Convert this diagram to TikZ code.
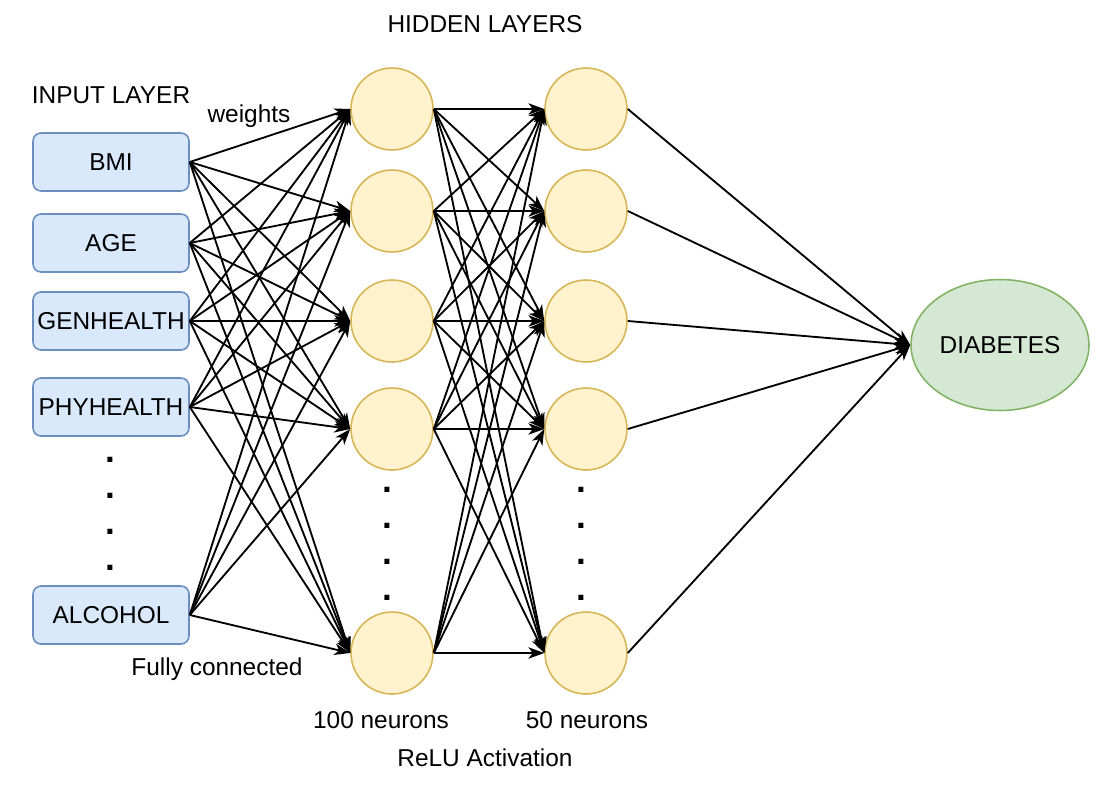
\documentclass[tikz,border=0pt]{standalone}
\usepackage{fontspec}
\setmainfont{Liberation Sans}
\usepackage{tikz}
\usetikzlibrary{arrows.meta,shapes.geometric}
\definecolor{inblue}{HTML}{DAE8FC}
\definecolor{inblueline}{HTML}{6C8EBF}
\definecolor{hidyellow}{HTML}{FFF2CC}
\definecolor{hidyellowline}{HTML}{D6B656}
\definecolor{outgreen}{HTML}{D5E8D4}
\definecolor{outgreenline}{HTML}{82B366}
\tikzset{
  txt/.style={font=\fontsize{13.9}{16}\selectfont},
  inbox/.style={txt, draw=inblueline, fill=inblue, line width=0.9pt, rounded corners=0.16cm,
    minimum width=3.12cm, minimum height=1.16cm, inner sep=0pt},
  neuron/.style={circle, draw=hidyellowline, fill=hidyellow, line width=0.9pt,
    minimum size=1.64cm, inner sep=0pt},
  outnode/.style={txt, ellipse, draw=outgreenline, fill=outgreen, line width=0.9pt,
    minimum width=3.56cm, minimum height=2.62cm, inner sep=0pt},
  wire/.style={line width=1.05pt, -{Stealth[length=9pt,width=6.5pt,inset=2.5pt]}},
  vdot/.style={font=\fontsize{20}{20}\selectfont\bfseries, anchor=base, inner sep=0pt}
}
\begin{document}
\begin{tikzpicture}[x=0.02cm,y=-0.02cm]
	%%%%% START %%%%%
	\useasboundingbox (0,0) rectangle (1108,784);
	
	% input layer
	\node[inbox] (in1) at (111,162) {BMI};
	\node[inbox] (in2) at (111,243) {AGE};
	\node[inbox] (in3) at (111,321) {GENHEALTH};
	\node[inbox] (in4) at (111,407) {PHYHEALTH};
	\node[inbox] (in5) at (111,615) {ALCOHOL};
	\foreach \y in {459,495,531,567} \node[vdot] at (110,\y+3) {.};
	
	% hidden layers
	\node[neuron] (ha1) at (392,109) {};
	\node[neuron] (ha2) at (392,211) {};
	\node[neuron] (ha3) at (392,321) {};
	\node[neuron] (ha4) at (392,429) {};
	\node[neuron] (ha5) at (392,653) {};
	\node[neuron] (hb1) at (586,109) {};
	\node[neuron] (hb2) at (586,211) {};
	\node[neuron] (hb3) at (586,321) {};
	\node[neuron] (hb4) at (586,429) {};
	\node[neuron] (hb5) at (586,653) {};
	\foreach \y in {489,525,561,597} {
		\node[vdot] at (387,\y+3) {.};
		\node[vdot] at (581,\y+3) {.};
	}
	
	% output
	\node[outnode] (out) at (1000,345) {DIABETES};
	
	% weights
	\foreach \i in {1,...,5}
		\foreach \j in {1,...,5} {
			\draw[wire] (in\i.east) -- (ha\j.west);
			\draw[wire] (ha\i.east) -- (hb\j.west);
		}
	\foreach \i in {1,...,5} \draw[wire] (hb\i.east) -- (out.west);
	
	% labels
	\node[txt] (lhidden) at (485,24) {HIDDEN LAYERS};
	\node[txt] (linput) at (111,95) {INPUT LAYER};
	\node[txt] (lweights) at (249,116) {weights};
	\node[txt] (lfully) at (217,669) {Fully connected};
	\node[txt] (lhun) at (381,720) {100 neurons};
	\node[txt] (lfifty) at (587,720) {50 neurons};
	\node[txt] (lrelu) at (485,758) {ReLU Activation};
	%%%%% END %%%%%
\end{tikzpicture}
\end{document}
